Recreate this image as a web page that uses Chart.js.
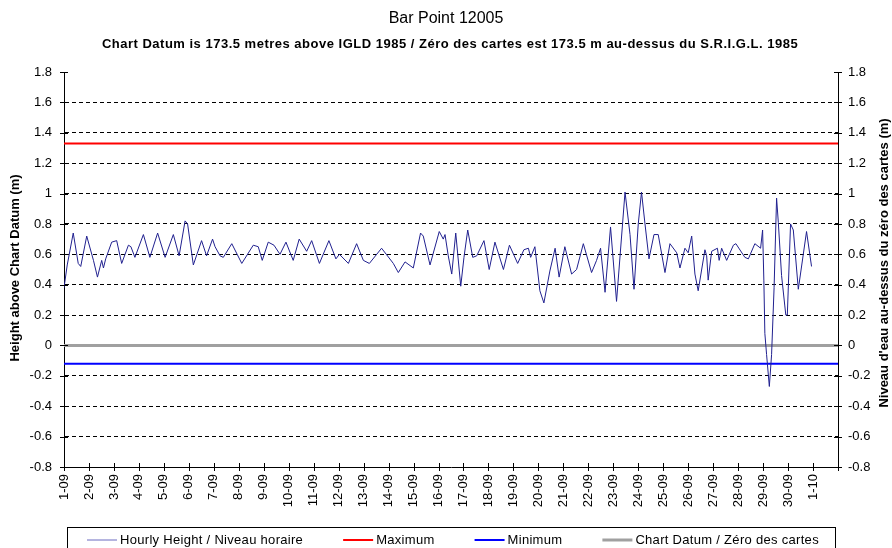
<!DOCTYPE html>
<html>
<head>
<meta charset="utf-8">
<script src="https://cdn.jsdelivr.net/npm/chart.js@4.4.0/dist/chart.umd.min.js"></script>
<style>
  html, body { margin: 0; padding: 0; background: #fff; }
  #wrap { width: 892px; height: 548px; position: relative; }
</style>
</head>
<body>
<div id="wrap"><canvas id="levelChart"></canvas></div>
<script>
// === DATA ===
const dayLabels = ["1-09", "2-09", "3-09", "4-09", "5-09", "6-09", "7-09", "8-09", "9-09", "10-09",
  "11-09", "12-09", "13-09", "14-09", "15-09", "16-09", "17-09", "18-09", "19-09", "20-09",
  "21-09", "22-09", "23-09", "24-09", "25-09", "26-09", "27-09", "28-09", "29-09", "30-09", "1-10"];
const yTicks = [-0.8, -0.6, -0.4, -0.2, 0, 0.2, 0.4, 0.6, 0.8, 1, 1.2, 1.4, 1.6, 1.8];

// days since 1-09 00:00
const hourDays = [0.00, 0.13, 0.37, 0.57, 0.67, 0.91, 1.18, 1.34, 1.51, 1.58, 1.67, 1.91, 2.11, 2.31,
  2.58, 2.68, 2.84, 3.18, 3.44, 3.75, 4.05, 4.38, 4.61, 4.85, 4.95, 5.18, 5.51, 5.71, 5.95, 6.05,
  6.25, 6.38, 6.72, 7.12, 7.58, 7.78, 7.94, 8.18, 8.41, 8.65, 8.89, 9.18, 9.42, 9.72, 9.92, 10.23,
  10.61, 10.89, 11.03, 11.39, 11.72, 11.99, 12.23, 12.72, 13.19, 13.39, 13.66, 13.99, 14.28, 14.39,
  14.66, 15.03, 15.19, 15.26, 15.39, 15.53, 15.69, 15.89, 16.02, 16.17, 16.37, 16.53, 16.82, 17.03,
  17.26, 17.60, 17.84, 18.17, 18.42, 18.60, 18.69, 18.86, 19.06, 19.22, 19.46, 19.67, 19.83, 20.06,
  20.33, 20.53, 20.80, 21.13, 21.33, 21.49, 21.67, 21.89, 22.13, 22.47, 22.67, 22.83, 23.00, 23.13,
  23.27, 23.43, 23.63, 23.80, 24.07, 24.27, 24.54, 24.67, 24.87, 25.00, 25.14, 25.27, 25.40, 25.67,
  25.74, 25.80, 25.94, 26.17, 26.24, 26.34, 26.54, 26.81, 26.91, 27.27, 27.41, 27.67, 27.90, 27.98,
  28.03, 28.07, 28.14, 28.25, 28.34, 28.44, 28.54, 28.61, 28.74, 28.87, 28.91, 28.97, 29.10, 29.21,
  29.41, 29.74, 29.94];
const hourHeights = [0.38, 0.53, 0.74, 0.54, 0.52, 0.72, 0.56, 0.45, 0.56, 0.51, 0.57, 0.68, 0.69, 0.54,
  0.66, 0.65, 0.58, 0.73, 0.58, 0.74, 0.58, 0.73, 0.59, 0.82, 0.80, 0.53, 0.69, 0.59, 0.70, 0.65,
  0.59, 0.58, 0.67, 0.54, 0.66, 0.65, 0.56, 0.68, 0.66, 0.60, 0.68, 0.56, 0.70, 0.62, 0.69, 0.54,
  0.69, 0.57, 0.60, 0.54, 0.67, 0.56, 0.54, 0.64, 0.54, 0.48, 0.55, 0.51, 0.74, 0.72,
  0.53, 0.75, 0.70, 0.73, 0.59, 0.47, 0.74, 0.39, 0.58, 0.76, 0.58, 0.59, 0.69, 0.50,
  0.68, 0.50, 0.66, 0.54, 0.63, 0.64, 0.58, 0.65, 0.36, 0.28, 0.49, 0.64, 0.45, 0.65,
  0.47, 0.50, 0.67, 0.48, 0.56, 0.64, 0.35, 0.78, 0.29, 1.01, 0.73, 0.37, 0.80, 1.01,
  0.80, 0.57, 0.73, 0.73, 0.48, 0.67, 0.61, 0.51, 0.64, 0.61, 0.72, 0.47, 0.36, 0.63,
  0.59, 0.43, 0.62, 0.64, 0.56, 0.64, 0.56, 0.66, 0.67, 0.58, 0.57, 0.67, 0.64, 0.76,
  0.43, 0.08, -0.06, -0.27, -0.06, 0.38, 0.97, 0.81, 0.46, 0.26, 0.20, 0.20, 0.80, 0.76,
  0.37, 0.75, 0.52];

const maxLevel = 1.33;
const minLevel = -0.12;
const datumLevel = 0;
const xMin = 0, xMax = 31;

const FONT = "'Liberation Sans', Arial, sans-serif";

// flat reference line across the whole month
function flat(v) {
  return [{ x: xMin, y: v }, { x: xMax, y: v }];
}

// === PLUGINS ===
const frameText = {
  id: "frameText",
  afterDraw(chart) {
    const c = chart.ctx;
    const a = chart.chartArea;
    c.save();
    c.fillStyle = "#000";
    c.textAlign = "center";
    c.textBaseline = "middle";
    c.font = "16px " + FONT;
    c.fillText("Bar Point 12005", 446, 19);
    c.font = "bold 13px " + FONT;
    c.letterSpacing = "0.5px";
    c.fillText("Chart Datum is 173.5 metres above IGLD 1985 / Zéro des cartes est 173.5 m au-dessus du S.R.I.G.L. 1985", 450, 44);
    c.letterSpacing = "0px";

    c.save();
    c.translate(15, 268);
    c.rotate(-Math.PI / 2);
    c.fillText("Height above Chart Datum (m)", 0, 0);
    c.restore();
    c.save();
    c.translate(884, 263);
    c.rotate(-Math.PI / 2);
    c.fillText("Niveau d'eau au-dessus du zéro des cartes (m)", 0, 0);
    c.restore();

    // cross ticks on the axes
    c.strokeStyle = "#000";
    c.lineWidth = 1;
    c.beginPath();
    const ys = chart.scales.y;
    yTicks.forEach(v => {
      const py = Math.round(ys.getPixelForValue(v)) + 0.5;
      c.moveTo(a.left - 4, py); c.lineTo(a.left + 4, py);
      c.moveTo(a.right - 4, py); c.lineTo(a.right + 4, py);
    });
    const xs = chart.scales.x;
    for (let d = xMin; d <= xMax; d++) {
      const px = Math.round(xs.getPixelForValue(d)) + 0.5;
      c.moveTo(px, a.bottom - 4); c.lineTo(px, a.bottom + 4);
    }
    c.stroke();

    // legend box
    c.strokeStyle = "#000";
    c.strokeRect(67.5, 527.5, 768, 40);
    c.textAlign = "left";
    c.font = "13px " + FONT;
    c.letterSpacing = "0.3px";
    let x = 87;
    const ly = 540;
    chart.data.datasets.forEach(ds => {
      c.strokeStyle = ds.legendColor || ds.borderColor;
      c.lineWidth = ds.borderWidth;
      c.beginPath();
      c.moveTo(x, ly); c.lineTo(x + 30, ly);
      c.stroke();
      c.fillStyle = "#000";
      c.fillText(ds.label, x + 33, ly);
      x += 33 + c.measureText(ds.label).width + 40;
    });
    c.restore();
  }
};

// === CHART ===
const ctx = document.getElementById("levelChart");
const tickFont = { family: FONT, size: 13 };

new Chart(ctx, {
  type: "line",
  data: {
    datasets: [
      {
        label: "Hourly Height / Niveau horaire",
        data: hourDays.map((d, i) => ({ x: d, y: hourHeights[i] })),
        borderColor: "#20208f",
        legendColor: "#6a6ac0",
        borderWidth: 1,
        pointRadius: 0,
        tension: 0
      },
      { label: "Maximum", data: flat(maxLevel), borderColor: "#ff0000", borderWidth: 2, pointRadius: 0 },
      { label: "Minimum", data: flat(minLevel), borderColor: "#0000ff", borderWidth: 2, pointRadius: 0 },
      { label: "Chart Datum / Zéro des cartes", data: flat(datumLevel), borderColor: "#a0a0a0", borderWidth: 3, pointRadius: 0 }
    ]
  },
  options: {
    responsive: true,
    maintainAspectRatio: false,
    animation: false,
    devicePixelRatio: 1,
    layout: { padding: { top: 72, left: 0, right: 0, bottom: 0 } },
    plugins: {
      legend: { display: false },
      title: { display: false },
      tooltip: { enabled: false }
    },
    scales: {
      x: {
        type: "linear",
        min: xMin,
        max: xMax,
        afterBuildTicks: s => { s.ticks = dayLabels.map((_, i) => ({ value: i })); },
        afterFit: s => { s.height = 81; },
        grid: { display: false, drawTicks: false },
        border: { display: true, color: "#000", width: 1 },
        ticks: {
          autoSkip: false,
          maxRotation: 90,
          minRotation: 90,
          padding: 7,
          color: "#000",
          font: tickFont,
          callback: v => dayLabels[v] || ""
        }
      },
      y: {
        position: "left",
        min: -0.8,
        max: 1.8,
        afterBuildTicks: s => { s.ticks = yTicks.map(v => ({ value: v })); },
        afterFit: s => { s.width = 64; },
        grid: {
          drawTicks: false,
          color: c => (c.tick && (c.tick.value === 1.8 || c.tick.value === -0.8)) ? "rgba(0,0,0,0)" : "#000",
          lineWidth: 1
        },
        border: { display: true, color: "#000", width: 1, dash: [4, 3] },
        ticks: {
          padding: 12,
          color: "#000",
          font: tickFont,
          callback: v => String(Math.round(v * 10) / 10)
        }
      },
      y2: {
        position: "right",
        min: -0.8,
        max: 1.8,
        afterBuildTicks: s => { s.ticks = yTicks.map(v => ({ value: v })); },
        afterFit: s => { s.width = 54; },
        grid: { display: false, drawTicks: false },
        border: { display: true, color: "#000", width: 1 },
        ticks: {
          padding: 10,
          color: "#000",
          font: tickFont,
          callback: v => String(Math.round(v * 10) / 10)
        }
      }
    }
  },
  plugins: [frameText]
});
</script>
</body>
</html>
